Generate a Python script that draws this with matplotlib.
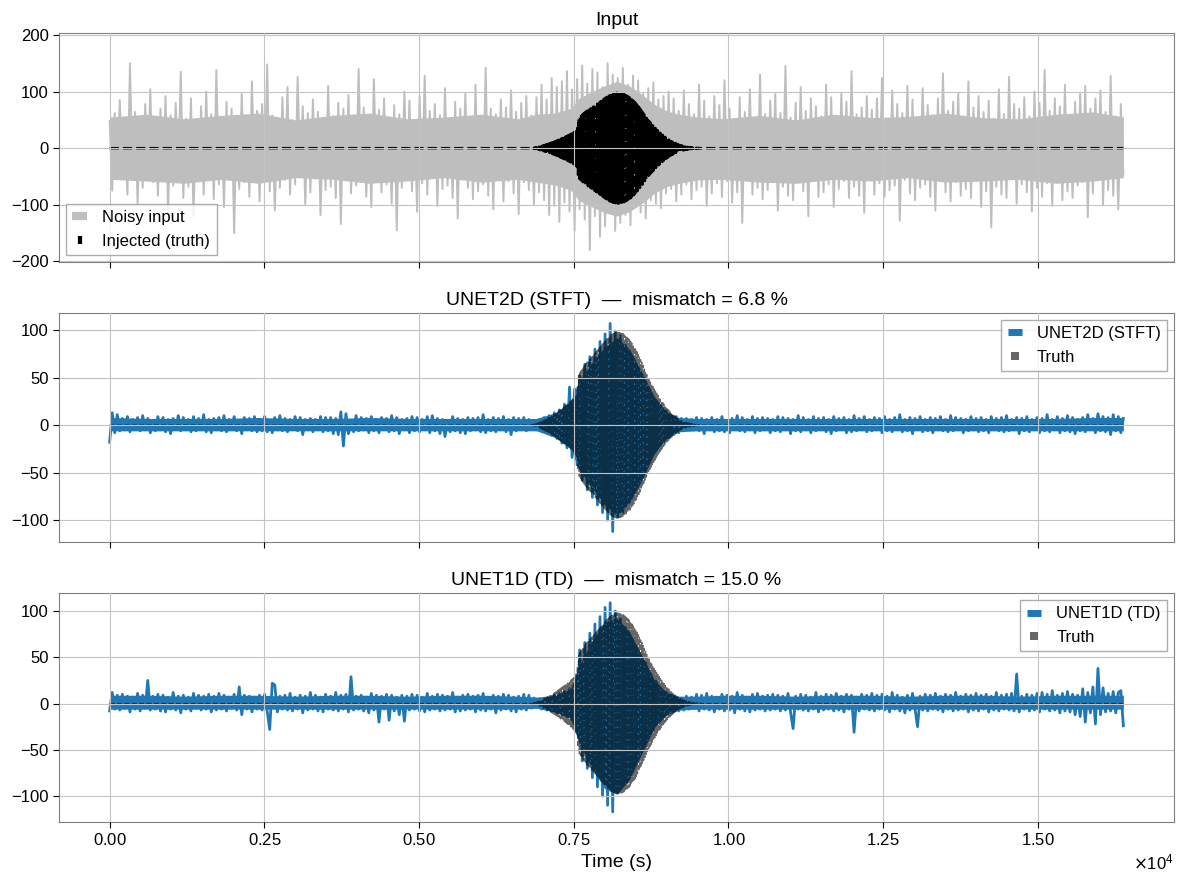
import numpy as np
import matplotlib
matplotlib.use("Agg")
from matplotlib import pyplot as plt
from matplotlib.lines import Line2D
from matplotlib.ticker import MultipleLocator

plt.rcParams['font.family'] = ['Liberation Sans', 'DejaVu Sans']
plt.rcParams['path.simplify'] = False  # keep every zig-zag of the dense traces

n_samples = 16384

# noisy input (truth + noise), read as per-bin extremes across the whole trace
noisy_input = [
    48, -75, 62, -40, 85, -55, 30, -82, 150, -50, 64, -98, 45, -70, 78, -35, 104, -60, 52, -84,
    70, -44, 92, -112, 58, -66, 80, -38, 135, -88, 52, -68, 88, -120, 40, -58, 74, -82, 100, -46,
    60, -90, 138, -64, 50, -104, 82, -42, 70, -150, 56, -72, 96, -60, 44, -86, 118, -52, 66, -94,
    78, -48, 148, -76, 58, -110, 38, -70, 90, -56, 108, -82, 50, -64, 126, -44, 74, -100, 62, -78,
    86, -54, 64, -118, 46, -74, 110, -68, 56, -88, 80, -134, 70, -48, 94, -80, 52, -66, 140, -60,
    72, -86, 48, -104, 122, -52, 68, -78, 88, -64, 54, -98, 76, -145, 60, -70, 100, -56, 84, -76,
    50, -112, 92, -62, 128, -82, 66, -50, 78, -102, 58, -72, 106, -66, 46, -88, 82, -124, 70, -54,
    96, -70, 56, -90, 112, -76, 52, -64, 142, -84, 70, -108, 60, -52, 86, -94, 72, -58, 102, -80,
    64, -116, 80, -60, 92, -74, 58, -100, 90, -78, 112, -92, 86, -118, 124, -102, 108, -130, 118, -96,
    136, -112, 104, -146, 122, -108, 146, -126, 114, -180, 140, -120, 134, -156, 108, -138, 150, -114, 130, -146,
    124, -132, 142, -118, 112, -136, 128, -104, 120, -114, 96, -124, 106, -92, 116, -98, 86, -106, 92, -80,
    100, -72, 88, -94, 66, -82, 102, -64, 78, -90, 60, -74, 112, -68, 84, -102, 56, -80, 92, -62,
    76, -86, 120, -58, 70, -96, 52, -78, 90, -132, 64, -56, 104, -82, 48, -70, 130, -90, 60, -74,
    84, -52, 96, -110, 62, -68, 145, -84, 54, -92, 80, -60, 108, -76, 66, -120, 88, -50, 74, -86,
    56, -78, 112, -64, 90, -104, 50, -72, 98, -58, 82, -88, 136, -68, 60, -84, 72, -114, 92, -54,
    68, -82, 88, -62, 124, -86, 52, -74, 102, -66, 78, -128, 62, -56, 110, -80, 86, -92, 54, -70,
    106, -64, 76, -86, 58, -110, 88, -52, 132, -78, 66, -94, 82, -60, 98, -84, 56, -72, 118, -88,
    72, -58, 92, -104, 64, -76, 84, -140, 52, -68, 104, -82, 60, -88, 126, -54, 78, -98, 70, -64,
    90, -78, 56, -112, 100, -70, 80, -86, 138, -62, 66, -102, 88, -52, 74, -92, 112, -76, 58, -88,
    82, -66, 96, -60, 110, -122, 70, -80, 88, -56, 102, -100, 64, -74, 128, -84, 56, -108, 78, -46,
]

# injected waveform around the burst, every 10 samples (zero elsewhere)
truth_start, truth_stop = 6800, 9600
truth_burst = [
    0, -0.1, 0.3, -0.4, 0.6, -0.8, 0.9, -1.1, 1.2, -1.4, 1.5,
    -1.8, 2.1, -2.4, 2.7, -3, 3.3, -3.6, 3.9, -4.2, 4.5,
    -5, 5.3, -5.7, 6, -6.4, 6.7, -7.1, 7.4, -7.7, 8,
    -8.4, 8.8, -9.2, 9.6, -10, 10.4, -10.8, 11.2, -11.6, 12,
    -12.5, 13, -13.5, 14, -14.5, 15, -15.5, 16, -16.5, 17,
    -17.5, 18, -18.5, 19, -19.5, 20, -20.5, 21, -21.5, 22,
    -22.6, 23.2, -23.8, 24.4, -25, 25.6, -26.2, 26.8, -27.4, 28,
    -29, 30, -31, 32, -33, 40, -47, 52, -54, 55,
    -56, 57, -58, 59, -60, 61, -62, 63, -64, 65,
    -65.7, 66.4, -67.1, 67.8, -68.5, 69.2, -69.9, 70.6, -71.3, 72,
    -72.8, 73.6, -74.4, 75.2, -76, 76.8, -77.6, 78.4, -79.2, 80,
    -80.8, 81.6, -82.4, 83.2, -84, 84.8, -85.6, 86.4, -87.2, 88,
    -88.7, 89.4, -90.1, 90.8, -91.5, 92.2, -92.9, 93.6, -94.3, 95,
    -95.3, 95.6, -95.9, 96.2, -96.5, 96.8, -97.1, 97.4, -97.7, 98,
    -97.8, 97.6, -97.4, 97.2, -97, 96.8, -96.6, 96.4, -96.2, 96,
    -95.4, 94.8, -94.2, 93.6, -93, 92.4, -91.8, 91.2, -90.6, 90,
    -89, 88, -87, 86, -85, 84, -83, 82, -81, 80,
    -78.6, 77.2, -75.8, 74.4, -73, 71.6, -70.2, 68.8, -67.4, 66,
    -64.4, 62.8, -61.2, 59.6, -58, 56.4, -54.8, 53.2, -51.6, 50,
    -48.8, 47.6, -46.4, 45.2, -44, 42.8, -41.6, 40.4, -39.2, 38,
    -36.9, 35.8, -34.7, 33.6, -32.5, 31.4, -30.3, 29.2, -28.1, 27,
    -26.1, 25.2, -24.3, 23.4, -22.5, 21.6, -20.7, 19.8, -18.9, 18,
    -17.3, 16.6, -15.9, 15.2, -14.5, 13.8, -13.1, 12.4, -11.7, 11,
    -10.5, 10, -9.5, 9, -8.5, 8, -7.5, 7, -6.5, 6,
    -5.7, 5.4, -5.1, 4.8, -4.5, 4.2, -3.9, 3.6, -3.3, 3,
    -2.85, 2.7, -2.55, 2.4, -2.25, 2.1, -1.95, 1.8, -1.65, 1.5,
    -1.4, 1.3, -1.2, 1.1, -1, 0.9, -0.8, 0.7, -0.6, 0.5,
    -0.45, 0.4, -0.35, 0.3, -0.25, 0.2, -0.15, 0.1, -0.05, 0,
]

pred_unet2d = [
    -18, 13, -8, 11, -6, 7, -5, 9, -7, 6, -4, 8, -6, 10, -5, 7, -8, 5, -6, 9,
    -5, 8, -7, 6, -9, 7, -4, 10, -6, 8, -5, 6, -7, 9, -6, 7, -5, 11, -7, 6,
    -8, 7, -5, 8, -6, 10, -7, 6, -4, 9, -6, 5, -9, 8, -5, 7, -6, 9, -7, 6,
    -6, 9, -7, 5, -8, 8, -5, 10, -6, 7, -7, 6, -4, 9, -6, 8, -10, 6, -5, 7,
    -7, 6, -5, 9, -7, 8, -6, 8, -9, 7, -10, 14, -22, 12, -9, 5, -7, 10, -6, 8,
    -5, 7, -8, 9, -6, 6, -8, 8, -5, 7, -7, 10, -6, 8, -9, 6, -5, 7, -8, 9,
    -6, 8, -7, 6, -5, 9, -8, 10, -6, 7, -9, 6, -12, 5, -7, 9, -6, 7, -8, 6,
    -9, 8, -6, 7, -5, 8, -7, 11, -8, 6, -6, 8, -7, 7, -5, 9, -7, 6, -10, 8,
    -6, 7, -5, 8, -6, 6, -4, 5, -5, 6, -6, 8, -8, 10, -11, 13, -14, 16, -19, 22,
    -24, 40, -34, 38, -42, 52, -58, 64, -68, 72, -76, 80, -84, 88, -92, 96, -100, 107, -112, 99,
    -97, 94, -92, 84, -80, 74, -70, 64, -60, 55, -50, 44, -40, 35, -30, 26, -24, 20, -18, 15,
    -13, 11, -10, 9, -8, 7, -6, 7, -5, 6, -5, 8, -6, 7, -9, 6, -5, 8, -7, 6,
    -6, 9, -7, 5, -8, 7, -5, 10, -6, 8, -7, 6, -5, 9, -8, 7, -6, 8, -5, 7,
    -8, 6, -6, 9, -7, 8, -5, 7, -9, 6, -6, 10, -7, 8, -5, 6, -8, 9, -6, 7,
    -5, 8, -7, 6, -9, 9, -6, 7, -5, 8, -8, 6, -7, 10, -6, 7, -5, 9, -7, 6,
    -6, 8, -5, 7, -8, 9, -6, 6, -7, 8, -5, 11, -7, 6, -6, 8, -9, 7, -5, 9,
    -7, 6, -6, 8, -8, 7, -5, 9, -6, 6, -7, 10, -6, 8, -5, 7, -8, 6, -6, 9,
    -5, 7, -7, 8, -6, 6, -8, 9, -5, 7, -6, 8, -7, 10, -6, 6, -5, 8, -9, 7,
    -6, 9, -7, 6, -5, 8, -8, 7, -6, 11, -7, 6, -5, 9, -8, 7, -6, 10, -7, 8,
    -9, 6, -6, 8, -7, 11, -5, 7, -8, 12, -6, 9, -7, 8, -10, 11, -6, 9, -8, 7,
]

pred_unet1d = [
    -8, 12, -6, 9, -7, 10, -5, 8, -9, 7, -6, 11, -8, 9, -5, 25, -7, 8, -6, 10,
    -8, 9, -9, 7, -6, 12, -7, 8, -10, 9, -6, 7, -8, 11, -5, 9, -7, 8, -6, 10,
    -9, 8, -7, 11, -6, 9, -8, 7, -5, 10, -7, 18, -12, 9, -6, 8, -9, 7, -6, 9,
    -7, 10, -8, -28, 22, 20, -9, 8, -6, 9, -7, 11, -8, 7, -6, 9, -10, 8, -7, 12,
    -6, 9, -8, 7, -9, 10, -6, 8, -7, 12, -8, 9, -6, 10, -9, 29, -7, 8, -6, 9,
    -8, 7, -10, 11, -7, 9, -20, 8, -6, 10, -18, 9, -8, 7, -12, 9, -19, 8, -7, 10,
    -6, 9, -8, 7, -9, 11, -7, 8, -6, 10, -8, 9, -7, 8, -6, 12, -9, 7, -8, 9,
    -7, 10, -6, 8, -9, 9, -7, 11, -8, 7, -6, 9, -10, 8, -7, 10, -6, 9, -8, 7,
    -9, 8, -6, 10, -7, 9, -5, 6, -4, 5, -6, 5, -7, 6, -8, 9, -10, 11, -12, 13,
    -14, 16, -18, 20, -24, 58, -62, 66, -70, 76, -80, 86, -90, 94, -100, 104, -110, 109, -117, 100,
    -96, 92, -88, 82, -78, 72, -68, 62, -56, 52, -48, 44, -38, 32, -28, 24, -20, 16, -14, 12,
    -10, 9, -8, 7, -8, 6, -7, 8, -6, 7, -5, 10, -8, 9, -6, 11, -7, 8, -9, 7,
    -6, 10, -8, 9, -7, 8, -10, 12, -6, 9, -8, 7, -9, 10, -7, 11, -6, 8, -8, 9,
    -7, 10, -6, 9, -8, 8, -7, 11, -9, -27, 8, -6, 10, -7, 9, -8, 7, -6, 12, -9,
    8, -7, 10, -6, 9, -8, 11, -7, 8, -9, 10, -6, 9, -31, 7, -8, 10, -6, 9, -7,
    11, -8, 9, -6, 10, -7, 8, -9, 12, -6, 9, -8, 7, -10, 9, -7, 11, -6, -25, 8,
    -7, 10, -8, 9, -6, 11, -7, 8, -9, 10, -6, 9, -8, 12, -7, 8, -6, 10, -9, 9,
    -7, 11, -8, 9, -6, 10, -9, 8, -7, 12, -8, 9, -6, 10, -7, 11, -8, 32, -9, 8,
    -6, 10, -8, 9, -7, 11, -9, 12, -6, 10, -8, 14, -7, 9, -10, 11, -8, 13, -9, 10,
    -12, 9, -14, 16, -20, 12, -10, 18, -22, 38, -12, 17, -9, 11, -8, 13, -10, 12, 14, -24,
]

# extent of the solid (densely sampled) core of each trace, read at these times
band_t = [0, 600, 1200, 1800, 2400, 3000, 3600, 4200, 4800, 5400, 6000, 6600, 6900, 7200,
          7450, 7580, 7800, 8000, 8200, 8400, 8600, 8800, 9000, 9200, 9500, 9900, 10500,
          11100, 11700, 12300, 12900, 13500, 14100, 14700, 15300, 15900, 16383]
noisy_hi = [55, 60, 52, 58, 62, 50, 58, 62, 52, 55, 60, 52, 60, 62, 70, 88, 100, 110, 118,
            110, 95, 78, 66, 60, 55, 52, 58, 50, 60, 54, 56, 62, 54, 52, 60, 64, 55]
noisy_lo = [-55, -58, -62, -55, -62, -52, -55, -62, -58, -52, -60, -55, -60, -65, -74, -92,
            -104, -114, -120, -112, -98, -80, -68, -62, -56, -55, -60, -62, -55, -58, -52,
            -60, -58, -55, -62, -58, -52]
unet2d_hi = [8, 7, 7, 7, 8, 7, 7, 8, 7, 7, 7, 7, 7, 13, 25, 46, 66, 82, 92, 80, 56, 30, 14,
             8, 7, 7, 7, 7, 7, 7, 7, 7, 7, 7, 7, 8, 8]
unet2d_lo = [-6, -6, -6, -6, -6, -6, -6, -6, -6, -6, -6, -6, -6, -13, -25, -46, -66, -84,
             -95, -82, -58, -30, -14, -7, -6, -6, -6, -6, -6, -6, -6, -6, -6, -6, -6, -6, -6]
unet1d_hi = [9, 9, 8, 9, 9, 8, 9, 9, 8, 9, 9, 8, 7, 9, 16, 40, 68, 88, 92, 78, 52, 26, 12,
             8, 8, 9, 9, 8, 9, 9, 8, 9, 9, 8, 9, 9, 9]
unet1d_lo = [-6, -6, -6, -6, -6, -6, -6, -6, -6, -6, -6, -6, -5, -9, -16, -42, -70, -92,
             -98, -82, -54, -26, -12, -7, -6, -6, -6, -6, -6, -6, -6, -6, -6, -6, -6, -6, -6]

models = [("UNET2D (STFT)", pred_unet2d, unet2d_lo, unet2d_hi, 6.8),
          ("UNET1D (TD)", pred_unet1d, unet1d_lo, unet1d_hi, 15.0)]


def time_axis(values, t0=0, t1=n_samples - 1):
    return np.linspace(t0, t1, len(values))


# truth padded with zeros to the full length
truth_t = np.concatenate([[0], time_axis(truth_burst, truth_start, truth_stop), [n_samples - 1]])
truth_v = np.concatenate([[0], truth_burst, [0]])

fig, axs = plt.subplots(nrows=3, ncols=1, sharex=True, figsize=(11.84, 8.84), dpi=100)
fig.subplots_adjust(left=0.0498, right=0.9916, top=0.9627, bottom=0.0701, hspace=0.2227)

gray = '#bebebe'
blue = '#1f77b4'

# --- panel 1: input
ax = axs[0]
ax.fill_between(band_t, noisy_lo, noisy_hi, color=gray, lw=0)
ax.plot(time_axis(noisy_input), noisy_input, color=gray, lw=1.4)
ax.plot(truth_t, truth_v, color='k', ls='--', lw=1.8)
ax.set_ylim(-201, 203.5)
ax.set_title('Input', fontsize=14)
handles = [Line2D([], [], color=gray, lw=6, solid_capstyle='butt'),
           Line2D([], [], color='k', ls='none', marker='|', ms=6, mew=3)]
ax.legend(handles, ['Noisy input', 'Injected (truth)'], loc='lower left', fontsize=12,
          handlelength=0.9, handletextpad=0.9, labelspacing=0.5, fancybox=False,
          edgecolor='#999999', borderaxespad=0.4)

# --- panels 2, 3: model outputs vs truth
ylims = [(-123, 118), (-128, 119.5)]
for ax, (name, pred, lo, hi, mism), yl in zip(axs[1:], models, ylims):
    ax.fill_between(band_t, lo, hi, color=blue, lw=0)
    ax.plot(time_axis(pred), pred, color=blue, lw=2.0)
    ax.plot(truth_t, truth_v, color='k', ls='--', lw=1.0, alpha=0.6)
    ax.set_ylim(*yl)
    ax.set_title(f'{name}  \u2014  mismatch = {mism:.1f} %', fontsize=14)
    handles = [Line2D([], [], color=blue, lw=5, solid_capstyle='butt'),
               Line2D([], [], color='k', alpha=0.6, ls='none', marker='s', ms=5.5, mew=0)]
    ax.legend(handles, [name, 'Truth'], loc='upper right', fontsize=12,
              handlelength=0.85, handletextpad=0.9, labelspacing=0.5, fancybox=False,
              edgecolor='#999999', borderaxespad=0.4)
    ax.yaxis.set_major_locator(MultipleLocator(50))

for ax in axs:
    ax.set_axisbelow(False)
    ax.grid(True, color='#c4c4c4', lw=0.8)
    ax.tick_params(labelsize=12, length=4, color='k')
    for sp in ax.spines.values():
        sp.set_color('#808080')
    ax.xaxis.set_major_locator(MultipleLocator(2500))

axs[2].ticklabel_format(axis='x', style='sci', scilimits=(0, 0), useMathText=True)
axs[2].xaxis.get_offset_text().set_fontsize(12)
axs[2].set_xlabel('Time (s)', fontsize=14)

plt.savefig('out.png', dpi=100)
